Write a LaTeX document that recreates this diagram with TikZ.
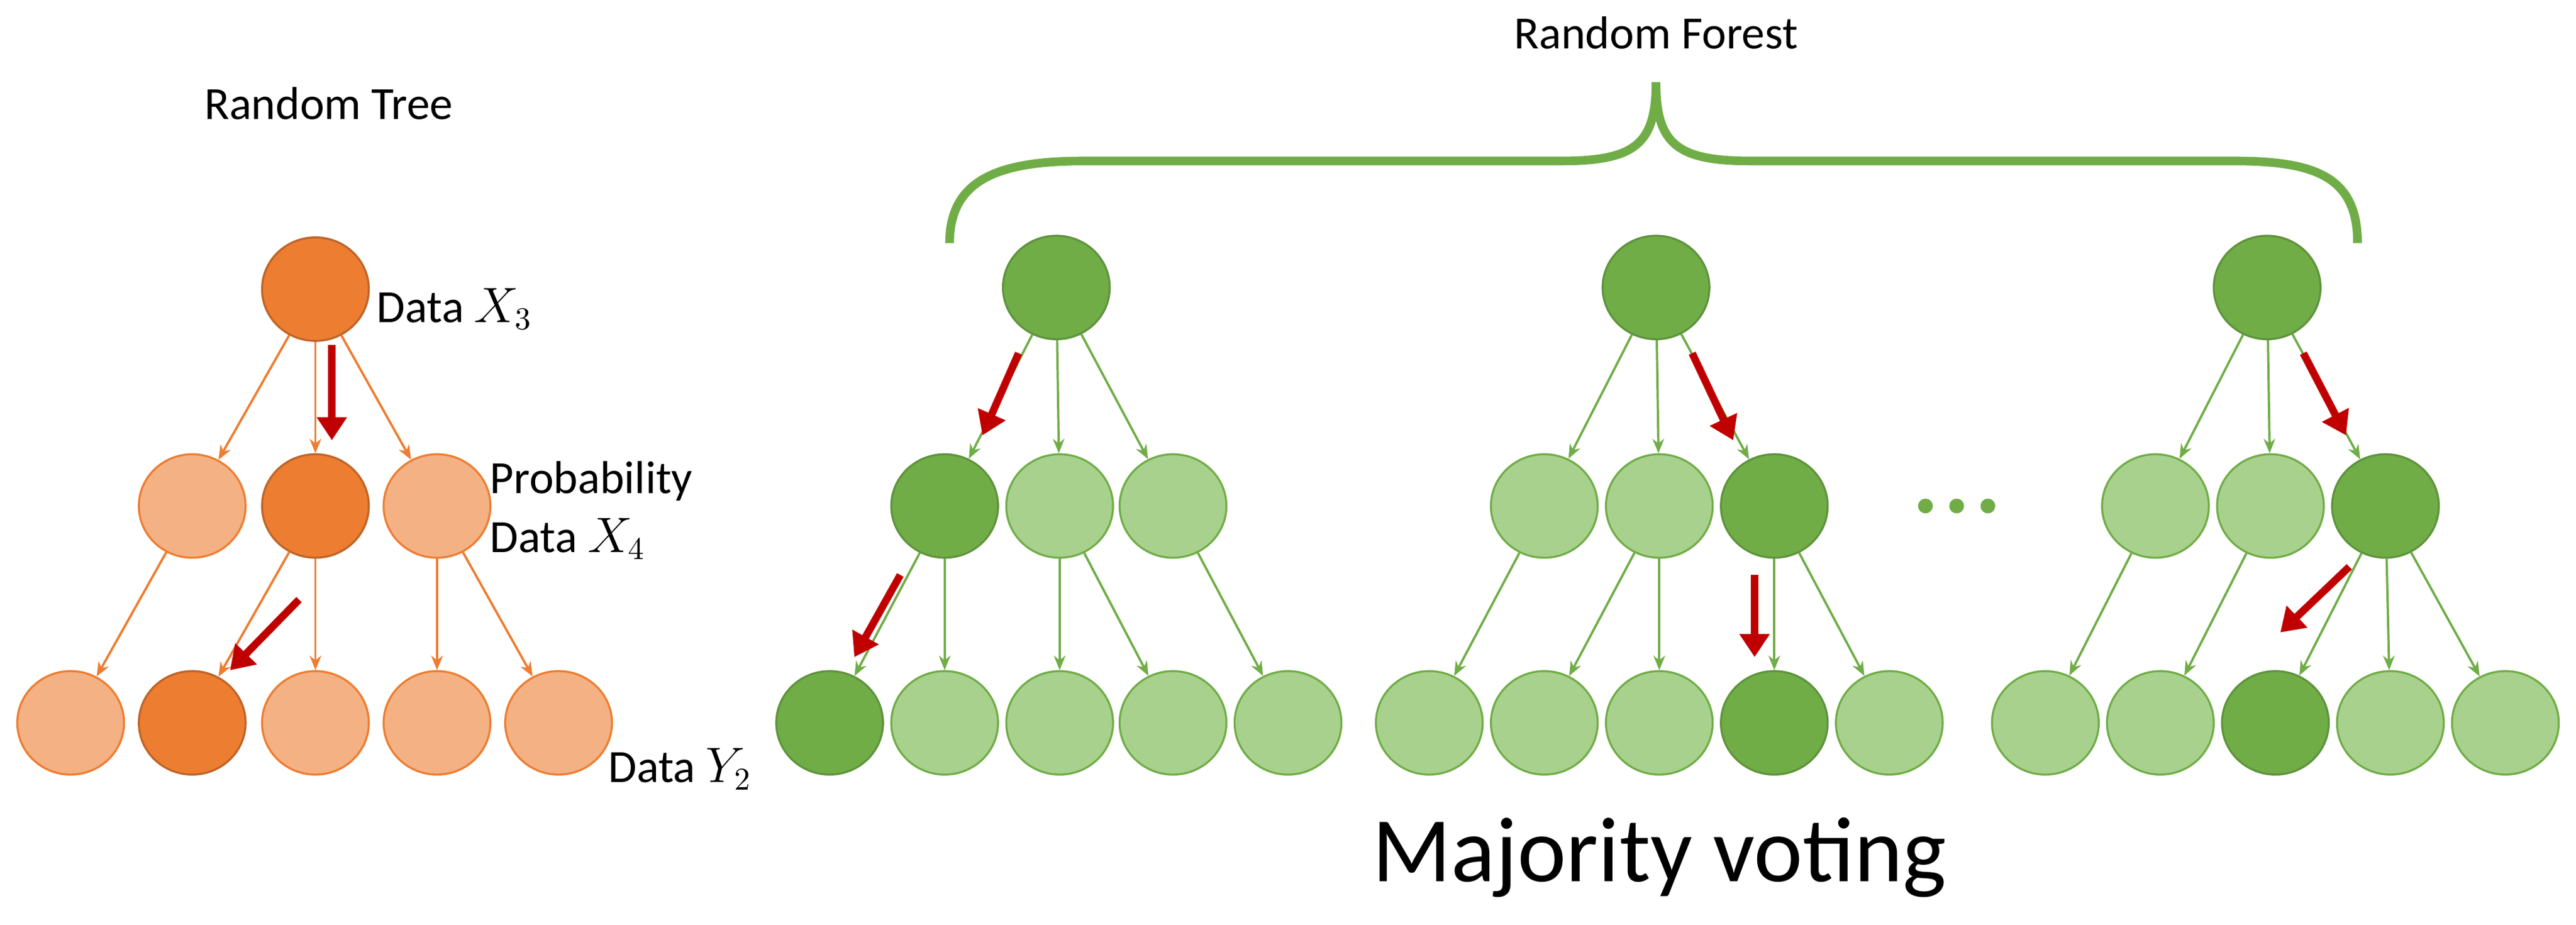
\documentclass[tikz,border=0pt]{standalone}
\usepackage{fontspec}
\setmainfont{Carlito}
\usetikzlibrary{arrows.meta,shapes.geometric}
\definecolor{dor}{HTML}{ED7D31}\definecolor{lor}{HTML}{F4B183}
\definecolor{dgr}{HTML}{70AD47}\definecolor{lgr}{HTML}{A9D18E}
\definecolor{red0}{HTML}{C00000}
\begin{document}
\begin{tikzpicture}[x=0.02cm,y=-0.02cm,
 nd/.style={ellipse,minimum width=1.3cm,minimum height=1.26cm,inner sep=0,line width=0.7pt},
 od/.style={nd,fill=dor,draw=dor!80!black},
 ol/.style={nd,fill=lor,draw=dor},
 gd/.style={nd,fill=dgr,draw=dgr!85!black},
 gl/.style={nd,fill=lgr,draw=dgr},
 oe/.style={draw=dor,line width=0.8pt,-{Stealth[length=5pt,width=4pt]}},
 ge/.style={draw=dgr,line width=0.8pt,-{Stealth[length=5pt,width=4pt]}},
 ra/.style={draw=red0,line width=2.6pt,-{Triangle[length=8pt,width=10pt]}},
 lab/.style={font=\fontsize{16}{18}\selectfont,anchor=west,inner sep=0}]
\useasboundingbox (0,0) rectangle (1568,563);
% orange tree
\node[od] (r) at (192,176) {};
\node[ol] (a1) at (117,308) {}; \node[od] (a2) at (192,308) {}; \node[ol] (a3) at (266,308) {};
\node[ol] (b1) at (43,440) {}; \node[od] (b2) at (117,440) {}; \node[ol] (b3) at (192,440) {};
\node[ol] (b4) at (266,440) {}; \node[ol] (b5) at (340,440) {};
\foreach \s/\t in {r/a1,r/a2,r/a3,a1/b1,a2/b2,a2/b3,a3/b4,a3/b5} \draw[oe] (\s) -- (\t);
\coordinate (o1) at (202,210); \coordinate (o2) at (202,268);
\coordinate (o3) at (182,365); \coordinate (o4) at (140,408);
\draw[ra] (o1) -- (o2); \draw[ra] (o3) -- (o4);
\node[font=\fontsize{16}{18}\selectfont] (t1) at (200,63) {Random Tree};
\node[lab] (l1) at (229,188) {Data $X_3$};
\node[lab] (l2) at (298,293) {Probability};
\node[lab] (l3) at (298,328) {Data $X_4$};
\node[lab] (l4) at (370,468) {Data $Y_2$};
% green tree 1
\node[gd] (p) at (643,175) {};
\node[gd] (p1) at (575,308) {}; \node[gl] (p2) at (645,308) {}; \node[gl] (p3) at (714,308) {};
\node[gd] (q1) at (505,440) {}; \node[gl] (q2) at (575,440) {}; \node[gl] (q3) at (645,440) {};
\node[gl] (q4) at (714,440) {}; \node[gl] (q5) at (784,440) {};
\foreach \s/\t in {p/p1,p/p2,p/p3,p1/q1,p1/q2,p2/q3,p2/q4,p3/q5} \draw[ge] (\s) -- (\t);
\coordinate (g1) at (620,215); \coordinate (g2) at (598,265);
\coordinate (g3) at (548,350); \coordinate (g4) at (520,400);
\draw[ra] (g1) -- (g2); \draw[ra] (g3) -- (g4);
% green tree 2
\node[gd] (s) at (1008,175) {};
\node[gl] (s1) at (940,308) {}; \node[gl] (s2) at (1010,308) {}; \node[gd] (s3) at (1080,308) {};
\node[gl] (u1) at (870,440) {}; \node[gl] (u2) at (940,440) {}; \node[gl] (u3) at (1010,440) {};
\node[gd] (u4) at (1080,440) {}; \node[gl] (u5) at (1150,440) {};
\foreach \s/\t in {s/s1,s/s2,s/s3,s1/u1,s2/u2,s2/u3,s3/u4,s3/u5} \draw[ge] (\s) -- (\t);
\coordinate (h1) at (1030,215); \coordinate (h2) at (1055,268);
\coordinate (h3) at (1068,350); \coordinate (h4) at (1068,400);
\draw[ra] (h1) -- (h2); \draw[ra] (h3) -- (h4);
% green tree 3
\node[gd] (v) at (1380,175) {};
\node[gl] (v1) at (1312,308) {}; \node[gl] (v2) at (1382,308) {}; \node[gd] (v3) at (1452,308) {};
\node[gl] (w1) at (1245,440) {}; \node[gl] (w2) at (1315,440) {}; \node[gd] (w3) at (1385,440) {};
\node[gl] (w4) at (1455,440) {}; \node[gl] (w5) at (1525,440) {};
\foreach \s/\t in {v/v1,v/v2,v/v3,v1/w1,v2/w2,v3/w3,v3/w4,v3/w5} \draw[ge] (\s) -- (\t);
\coordinate (k1) at (1402,215); \coordinate (k2) at (1428,265);
\coordinate (k3) at (1430,345); \coordinate (k4) at (1388,385);
\draw[ra] (k1) -- (k2); \draw[ra] (k3) -- (k4);
% dots
\foreach \x in {1172,1191,1210} \fill[dgr] (\x,308) circle (4.5);
% brace
\draw[dgr,line width=3pt] (578,148) .. controls (578,108) and (610,98) .. (660,98) -- (950,98)
  .. controls (995,98) and (1008,88) .. (1008,50)
  .. controls (1008,88) and (1021,98) .. (1066,98) -- (1360,98)
  .. controls (1410,98) and (1435,108) .. (1435,148);
\node[font=\fontsize{16}{18}\selectfont] (t2) at (1008,20) {Random Forest};
\node[font=\fontsize{32}{36}\selectfont] (t3) at (1010,522) {Majority voting};
\end{tikzpicture}
\end{document}
